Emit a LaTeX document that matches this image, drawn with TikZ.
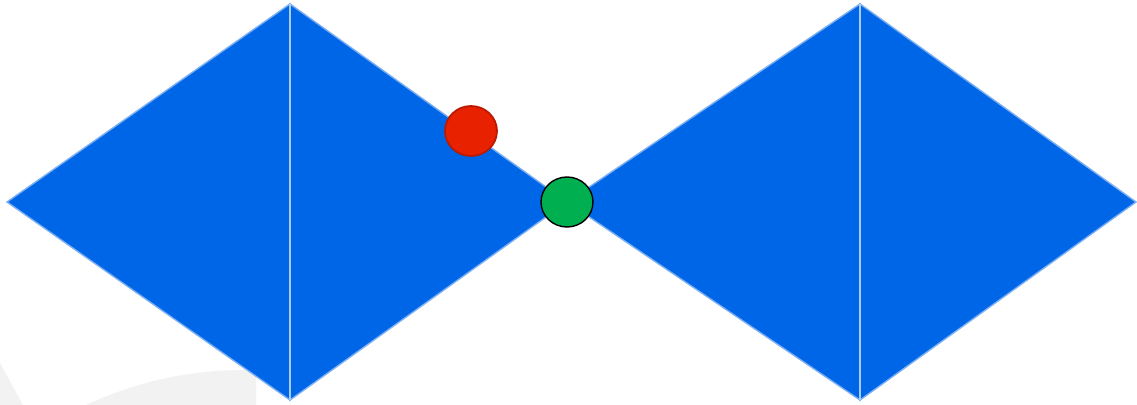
\documentclass[tikz,border=0pt]{standalone}
\usetikzlibrary{shapes.geometric}
\definecolor{facefill}{HTML}{0066E8}
\definecolor{faceedge}{HTML}{7AAEF2}
\definecolor{splitline}{HTML}{A9C9F6}
\definecolor{dotred}{HTML}{E82200}
\definecolor{dotredrim}{HTML}{BB1A00}
\definecolor{dotgreen}{HTML}{00B050}
\definecolor{ghost}{HTML}{F2F2F2}
\begin{document}
\begin{tikzpicture}[x=0.02cm, y=-0.02cm,
    face/.style={fill=facefill, draw=faceedge, line width=0.8pt, line join=miter},
    split/.style={draw=splitline, line width=1.5pt},
    dot/.style={ellipse, minimum width=1.04cm, minimum height=1.0cm, inner sep=0pt}]
    \useasboundingbox (0,0) rectangle (1137,405);
    % Faint background arcs
    \fill[ghost] (0,363) -- (23,405) -- (0,405) -- cycle;
    \fill[ghost] (86,405) .. controls (140,380) and (190,371) .. (238,370)
      -- (256,370) -- (256,405) -- cycle;
    % Corners of the two diamonds
    \coordinate (lw) at (7,202);
    \coordinate (lt) at (290,4);
    \coordinate (lb) at (290,400);
    \coordinate (m)  at (567,202);
    \coordinate (rt) at (860,4);
    \coordinate (rb) at (860,400);
    \coordinate (re) at (1136,202);
    % Left diamond
    \draw[face] (lw)--(lt)--(lb)--cycle;
    \draw[face] (lt)--(m)--(lb)--cycle;
    \draw[split] (lt)--(lb);
    % Right diamond
    \draw[face] (m)--(rt)--(rb)--cycle;
    \draw[face] (rt)--(re)--(rb)--cycle;
    \draw[split] (rt)--(rb);
    % Dots
    \node[dot, fill=dotred, draw=dotredrim, line width=1pt] (red) at (471,131) {};
    \node[dot, fill=dotgreen, draw=black, line width=0.8pt] (green) at (m) {};
  \end{tikzpicture}
\end{document}
